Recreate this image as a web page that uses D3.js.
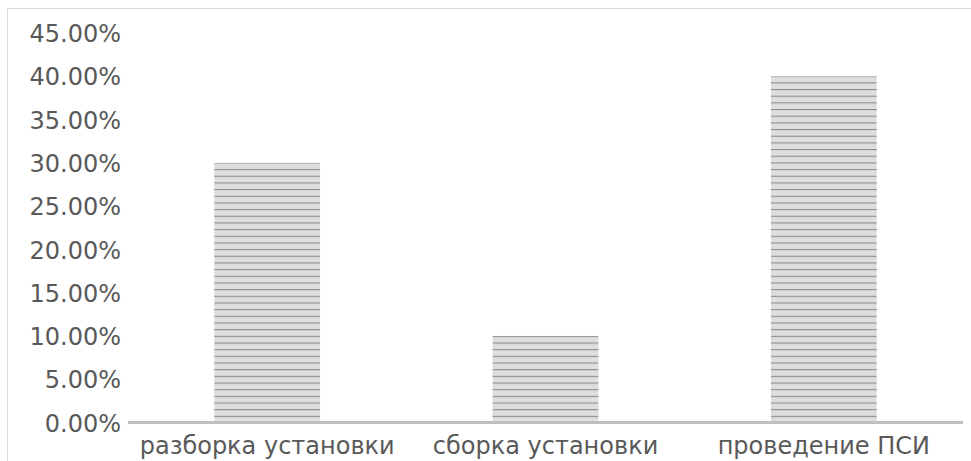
<!DOCTYPE html>
<html><head><meta charset="utf-8">
<script src="https://cdn.jsdelivr.net/npm/d3@7"></script>
<style>body{margin:0;background:#fff;}svg{display:block;}</style>
</head><body>
<script>
const categories = ["разборка установки", "сборка установки", "проведение ПСИ"];
const values = [0.30, 0.10, 0.40];
const yTicks = [0, 0.05, 0.10, 0.15, 0.20, 0.25, 0.30, 0.35, 0.40, 0.45];

const W = 971, H = 461;
const svg = d3.select("body").append("svg").attr("width", W).attr("height", H);

const defs = svg.append("defs");
const pat = defs.append("pattern").attr("id", "hstripe")
  .attr("patternUnits", "userSpaceOnUse").attr("width", 8).attr("height", 6.67)
  .attr("y", 2.3);
pat.append("rect").attr("width", 8).attr("height", 6.67).attr("fill", "#dedede");
pat.append("rect").attr("y", 0).attr("width", 8).attr("height", 1.1).attr("fill", "#8c8c8c");

// frame
svg.append("rect").attr("x", 7.5).attr("y", 8.5).attr("width", 980).attr("height", 480)
  .attr("fill", "none").attr("stroke", "#d9d9d9").attr("stroke-width", 1);

const x = d3.scaleBand().domain(categories).range([128, 963]).paddingInner(0.62).paddingOuter(0.31);
const y = d3.scaleLinear().domain([0, 0.45]).range([422.5, 33]);

svg.selectAll("rect.bar").data(values).enter().append("rect").attr("class", "bar")
  .attr("x", (d, i) => x(categories[i]))
  .attr("width", x.bandwidth())
  .attr("y", d => y(d))
  .attr("height", d => y(0) - y(d))
  .attr("fill", "url(#hstripe)");

// y axis labels
const yAxis = d3.axisLeft(y).tickValues(yTicks).tickSize(0).tickPadding(0)
  .tickFormat(d => (d * 100).toFixed(2) + "%");
const ya = svg.append("g").attr("transform", "translate(121,0)").call(yAxis);
ya.select(".domain").remove();
ya.selectAll("text").attr("fill", "#595959").attr("font-family", "DejaVu Sans")
  .attr("font-size", 24).attr("dy", "0.36em");

// x axis
const xAxis = d3.axisBottom(x).tickSize(0).tickPadding(0);
const xa = svg.append("g").attr("transform", "translate(0,422.5)").call(xAxis);
xa.select(".domain").attr("stroke", "#bfbfbf").attr("stroke-width", 3)
  .attr("d", "M128,0H963");
xa.selectAll("text").attr("fill", "#595959").attr("font-family", "DejaVu Sans")
  .attr("font-size", 24).attr("dy", null).attr("y", 31.5);
</script>
</body></html>
